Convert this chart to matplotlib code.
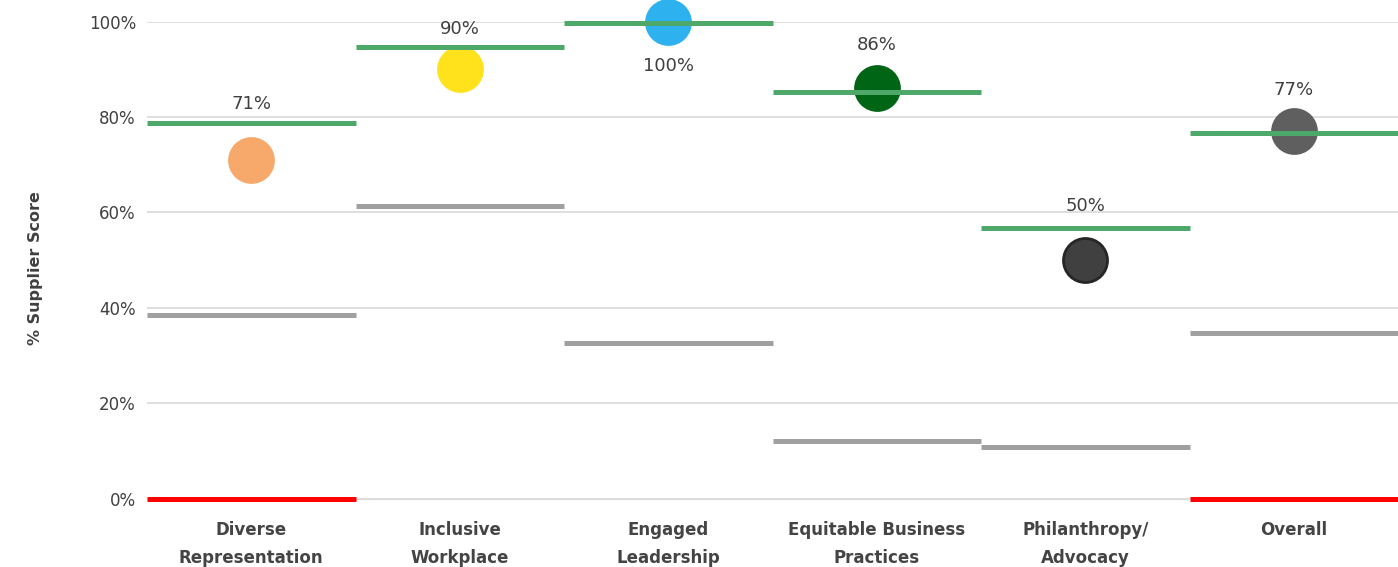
import matplotlib.pyplot as plt

# data
categories = ["Diverse\nRepresentation", "Inclusive\nWorkplace", "Engaged\nLeadership",
              "Equitable Business\nPractices", "Philanthropy/\nAdvocacy", "Overall"]
supplier_score = [71, 90, 100, 86, 50, 77]
top_line = [78.8, 94.7, 99.7, 85.2, 56.8, 76.6]      # green
avg_line = [38.4, 61.3, 32.7, 12.0, 10.7, 34.8]      # grey
low_line = [0, None, None, None, None, 0]            # red
score_labels = ["71%", "90%", "100%", "86%", "50%", "77%"]
y_ticks = [0, 20, 40, 60, 80, 100]

# style
dot_colors = ["#F7A96C", "#FFE11C", "#2EB2EF", "#016516", "#404040", "#5F5F5F"]
dot_edges = ["#F7A96C", "#FFE11C", "#2EB2EF", "#016516", "#262626", "#5F5F5F"]
label_offsets = [56, 40, -44, 43, 54, 41]   # pixels above the dot (negative = below)
text_color = "#404040"

plt.rcParams['font.family'] = ['DejaVu Sans']

fig = plt.figure(figsize=(13.98, 5.67), dpi=100)
ax = fig.add_axes([147 / 1398, 1 - 498.5 / 567, 1 - 147 / 1398, (498.5 - 21.7) / 567])

x = list(range(len(categories)))

# dots first, lines on top of them
for i in x:
    ax.scatter(i, supplier_score[i], s=44 ** 2 * 0.72 ** 2, color=dot_colors[i],
               edgecolors=dot_edges[i], linewidths=2, zorder=3, clip_on=False)

ax.hlines(top_line, [i - 0.5 for i in x], [i + 0.5 for i in x], color="#4EA86A",
          linewidth=3.6, zorder=4, clip_on=False)
ax.hlines(avg_line, [i - 0.5 for i in x], [i + 0.5 for i in x], color="#A0A0A0",
          linewidth=3.6, zorder=4, clip_on=False)
for i in x:
    if low_line[i] is not None:
        ax.hlines(low_line[i], i - 0.5, i + 0.5, color="#FF0000", linewidth=3.6,
                  zorder=4, clip_on=False)

for i in x:
    ax.annotate(score_labels[i], (i, supplier_score[i]), xytext=(0, label_offsets[i]),
                textcoords="offset pixels", ha="center", va="center",
                fontsize=13, color=text_color, zorder=5)

ax.set_xlim(-0.5, len(categories) - 0.5)
ax.set_ylim(0, 100)
ax.set_yticks(y_ticks)
ax.set_yticklabels([f"{t}%" for t in y_ticks])
ax.set_xticks(x)
ax.set_xticklabels(categories, fontweight="bold", linespacing=1.7)
ax.tick_params(axis="y", length=0, pad=8, labelsize=12, labelcolor=text_color)
ax.tick_params(axis="x", length=0, pad=16, labelsize=12, labelcolor="#444444")
ax.grid(axis="y", color="#D9D9D9", linewidth=1.2)
ax.set_axisbelow(True)
for side in ["top", "right", "left"]:
    ax.spines[side].set_visible(False)
ax.spines["bottom"].set_color("#D9D9D9")

fig.text(36 / 1398, 1 - 268 / 567, "% Supplier Score", rotation=90, ha="center",
         va="center", fontsize=11.5, fontweight="bold", color=text_color)

fig.savefig("out.png", dpi=100)
